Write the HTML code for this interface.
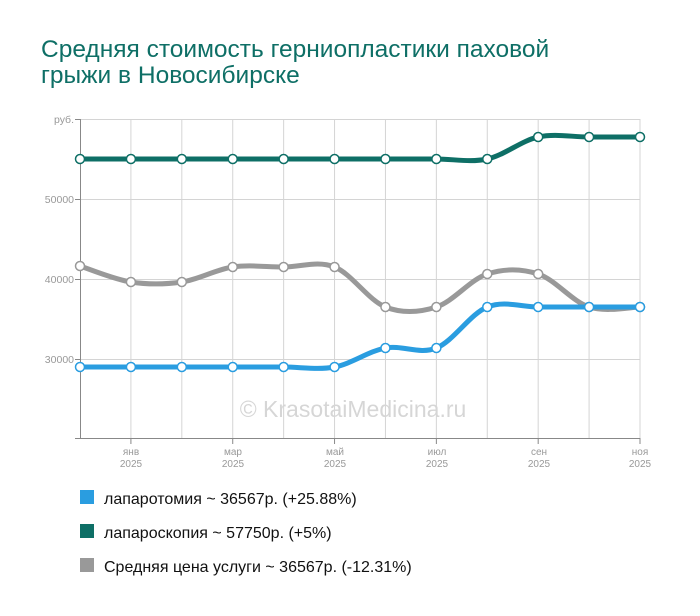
<!DOCTYPE html>
<html><head><meta charset="utf-8"><style>
body{margin:0;background:#fff;width:700px;height:616px;overflow:hidden;font-family:"Liberation Sans",sans-serif}
h1{position:absolute;left:41px;top:37px;margin:0;font-weight:normal;font-size:24.5px;line-height:26px;color:#0e6f66}
</style></head><body>
<h1>Средняя стоимость герниопластики паховой<br>грыжи в Новосибирске</h1>
<svg id="s" width="700" height="616" style="position:absolute;left:0;top:0" font-family="Liberation Sans, sans-serif">
<g stroke="#d4d4d4" stroke-width="1" id="grid"></g>
<line x1="80.5" y1="119" x2="80.5" y2="438" stroke="#888"/>
<line x1="75" y1="438.5" x2="640" y2="438.5" stroke="#888"/>
<g font-size="10.5" fill="#999" text-anchor="end">
<text x="74" y="123">руб.</text>
<text x="74" y="203">50000</text>
<text x="74" y="283">40000</text>
<text x="74" y="363">30000</text>
</g>
<g font-size="10" fill="#999" text-anchor="middle">
<text x="131" y="455">янв</text><text x="131" y="467">2025</text>
<text x="233" y="455">мар</text><text x="233" y="467">2025</text>
<text x="335" y="455">май</text><text x="335" y="467">2025</text>
<text x="437" y="455">июл</text><text x="437" y="467">2025</text>
<text x="539" y="455">сен</text><text x="539" y="467">2025</text>
<text x="640" y="455">ноя</text><text x="640" y="467">2025</text>
</g>
<text x="353" y="417" font-size="23" fill="#d6d6d6" text-anchor="middle">© KrasotaiMedicina.ru</text>
<g id="series"></g>
<rect x="80" y="490" width="14" height="14" fill="#2a9de0"/>
<rect x="80" y="524" width="14" height="14" fill="#0e6f66"/>
<rect x="80" y="558" width="14" height="14" fill="#999"/>
<g font-size="16" fill="#111">
<text x="104" y="504">лапаротомия ~ 36567р. (+25.88%)</text>
<text x="104" y="538">лапароскопия ~ 57750р. (+5%)</text>
<text x="104" y="572">Средняя цена услуги ~ 36567р. (-12.31%)</text>
</g>
</svg>
<script>
var ns="http://www.w3.org/2000/svg",g=document.getElementById('grid'),S=document.getElementById('series');
var xs=[];for(var i=0;i<12;i++)xs.push(80+i*(560/11));
function ln(x1,y1,x2,y2,c){var l=document.createElementNS(ns,'line');l.setAttribute('x1',x1);l.setAttribute('y1',y1);l.setAttribute('x2',x2);l.setAttribute('y2',y2);if(c)l.setAttribute('stroke',c);g.appendChild(l);}
for(var i=1;i<12;i++){ln(xs[i],119,xs[i],438);if(i%2==1)ln(xs[i],438,xs[i],444,'#888');}
[119,199,279,359].forEach(function(y){ln(80,y+.5,640,y+.5);ln(75,y+.5,80,y+.5,'#888');});
ln(75,438.5,80,438.5,'#888');
function path(ys){var d='M'+xs[0]+','+ys[0];for(var i=0;i<ys.length-1;i++){var p0=i?i-1:i,p3=i+2<ys.length?i+2:i+1;
var c1x=xs[i]+(xs[i+1]-xs[p0])/6,c1y=ys[i]+(ys[i+1]-ys[p0])/6,c2x=xs[i+1]-(xs[p3]-xs[i])/6,c2y=ys[i+1]-(ys[p3]-ys[i])/6;
d+=' C'+c1x+','+c1y+' '+c2x+','+c2y+' '+xs[i+1]+','+ys[i+1];}return d;}
function ser(ys,c){var p=document.createElementNS(ns,'path');p.setAttribute('d',path(ys));p.setAttribute('fill','none');p.setAttribute('stroke',c);p.setAttribute('stroke-width','5');S.appendChild(p);
ys.forEach(function(y,i){var ci=document.createElementNS(ns,'circle');ci.setAttribute('cx',xs[i]);ci.setAttribute('cy',y);ci.setAttribute('r','4.5');ci.setAttribute('fill','#fff');ci.setAttribute('stroke',c);ci.setAttribute('stroke-width','1.5');S.appendChild(ci);});}
ser([266,282,282,267,267,267,307,307,274,274,307,307],'#999');
ser([367,367,367,367,367,367,348,348,307,307,307,307],'#2a9de0');
ser([159,159,159,159,159,159,159,159,159,137,137,137],'#0e6f66');
</script>
</body></html>
